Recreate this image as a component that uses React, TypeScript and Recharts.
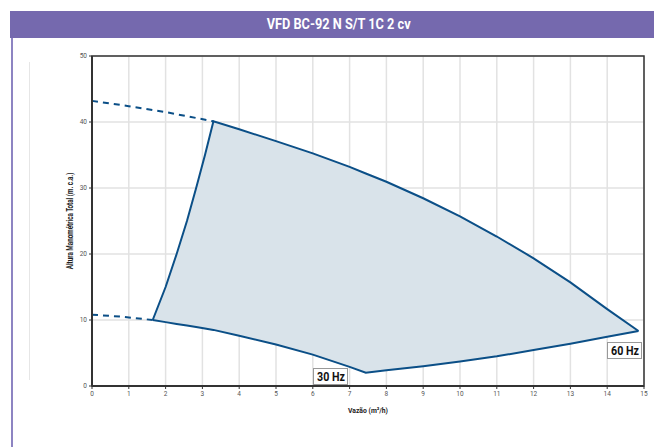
import React from "react";
import {
  ComposedChart,
  Area,
  Line,
  XAxis,
  YAxis,
  CartesianGrid,
  ReferenceArea,
} from "recharts";

// operating envelope
const flow = [1.65, 2.0, 2.3, 2.58, 2.83, 3.07, 3.3, 4, 5, 6, 7, 7.44, 8, 9, 10, 11, 12, 13, 14, 14.85];
const headMax = [10.0, 15.0, 20.0, 25.0, 30.0, 35.0, 40.1, 38.9, 37.1, 35.25, 33.2, 32.2, 30.95, 28.45, 25.7, 22.65, 19.35, 15.7, 11.65, 8.33];
const headMin = [10.0, 9.68, 9.4, 9.15, 8.93, 8.7, 8.5, 7.6, 6.3, 4.75, 2.9, 2.0, 2.38, 3.0, 3.7, 4.5, 5.45, 6.4, 7.45, 8.33];

// dashed extensions toward zero flow
const dashFlow60 = [0, 1, 2, 3.3];
const dashHead60 = [43.2, 42.4, 41.5, 40.1];
const dashFlow30 = [0, 0.8, 1.65];
const dashHead30 = [10.8, 10.5, 10.0];

const xTicks = [0, 1, 2, 3, 4, 5, 6, 7, 8, 9, 10, 11, 12, 13, 14, 15];
const yTicks = [0, 10, 20, 30, 40, 50];

const title = "VFD BC-92 N S/T 1C 2 cv";
const xLabel = "Vazão (m³/h)";
const yLabel = "Altura Manométrica Total (m. c.a.)";

const rows = flow.map((q, i) => ({
  q,
  band: [headMin[i], headMax[i]],
  hMax: headMax[i],
  hMin: headMin[i],
}));
const dash60 = dashFlow60.map((q, i) => ({ q, h: dashHead60[i] }));
const dash30 = dashFlow30.map((q, i) => ({ q, h: dashHead30[i] }));

const LINE = "#0b4f87";
const FONT = "Roboto, sans-serif";

function HzTag({ text, left, top }: { text: string; left: number; top: number }) {
  return (
    <div
      style={{
        position: "absolute",
        left,
        top,
        width: 33,
        height: 15,
        background: "#fff",
        border: "1px solid #999",
        fontFamily: FONT,
        fontWeight: 700,
        fontSize: 13,
        lineHeight: "15px",
        color: "#111",
        display: "flex",
        justifyContent: "center",
        whiteSpace: "nowrap",
      }}
    >
      <span style={{ flexShrink: 0, transform: "scaleX(0.82)" }}>{text}</span>
    </div>
  );
}

const YLabel = (props: any) => {
  const { viewBox } = props;
  const cx = viewBox.x + 8;
  const cy = viewBox.y + viewBox.height / 2;
  return (
    <text
      transform={`translate(${cx},${cy}) rotate(-90) scale(0.74,1)`}
      textAnchor="middle"
      dominantBaseline="central"
      fontSize={8.5}
      fontWeight={700}
      fill="#222"
      fontFamily={FONT}
    >
      {yLabel}
    </text>
  );
};

const XLabel = (props: any) => {
  const { viewBox } = props;
  const cx = viewBox.x + viewBox.width / 2;
  return (
    <text
      transform={`translate(${cx},${viewBox.y + 24}) scale(0.85,1)`}
      textAnchor="middle"
      dominantBaseline="central"
      fontSize={8}
      fontWeight={700}
      fill="#222"
      fontFamily={FONT}
    >
      {xLabel}
    </text>
  );
};

export default function App() {
  const tick = { fontSize: 6.5, fill: "#555", fontFamily: FONT };
  return (
    <div
      style={{
        position: "absolute",
        left: 0,
        top: 0,
        width: 654,
        height: 447,
        background: "#fff",
        overflow: "hidden",
      }}
    >
      <div
        style={{
          position: "absolute",
          left: 10,
          top: 11,
          width: 644,
          height: 27,
          background: "#7569ae",
          color: "#fff",
          fontFamily: FONT,
          fontWeight: 700,
          fontSize: 15,
          lineHeight: "27px",
          textAlign: "center",
          paddingLeft: 14,
          boxSizing: "border-box",
        }}
      >
        <span style={{ display: "inline-block", transform: "scaleX(0.85)" }}>{title}</span>
      </div>
      <div
        style={{
          position: "absolute",
          left: 11,
          top: 38,
          width: 2,
          height: 409,
          background: "#8d84c2",
        }}
      />
      <div
        style={{
          position: "absolute",
          left: 29,
          top: 62,
          width: 1,
          height: 318,
          background: "#e6e6e6",
        }}
      />
      <div style={{ position: "absolute", left: 0, top: 0 }}>
        <ComposedChart
          width={654}
          height={447}
          data={rows}
          margin={{ top: 56, right: 10, bottom: 31, left: 62 }}
        >
          <CartesianGrid stroke="#e2e2e2" strokeWidth={1.5} />
          <XAxis
            dataKey="q"
            type="number"
            domain={[0, 15]}
            ticks={xTicks}
            tick={tick}
            tickSize={3}
            tickLine={{ stroke: "#333" }}
            axisLine={{ stroke: "#333", strokeWidth: 2 }}
            height={30}
            label={<XLabel />}
          />
          <YAxis
            type="number"
            domain={[0, 50]}
            ticks={yTicks}
            tick={tick}
            tickSize={3}
            tickLine={{ stroke: "#333" }}
            axisLine={{ stroke: "#333", strokeWidth: 2 }}
            width={30}
            label={<YLabel />}
          />
          <ReferenceArea
            x1={0}
            x2={15}
            y1={0}
            y2={50}
            fill="none"
            stroke="#333"
            strokeWidth={1.5}
            ifOverflow="visible"
          />
          <Area
            dataKey="band"
            type="linear"
            fill="#d9e3ea"
            fillOpacity={1}
            stroke="none"
            isAnimationActive={false}
          />
          <Line
            dataKey="hMax"
            type="linear"
            stroke={LINE}
            strokeWidth={2}
            dot={false}
            isAnimationActive={false}
          />
          <Line
            dataKey="hMin"
            type="linear"
            stroke={LINE}
            strokeWidth={2}
            dot={false}
            isAnimationActive={false}
          />
          <Line
            data={dash60}
            dataKey="h"
            type="linear"
            stroke={LINE}
            strokeWidth={2}
            strokeDasharray="6 5"
            dot={false}
            isAnimationActive={false}
          />
          <Line
            data={dash30}
            dataKey="h"
            type="linear"
            stroke={LINE}
            strokeWidth={2}
            strokeDasharray="6 5"
            dot={false}
            isAnimationActive={false}
          />
        </ComposedChart>
      </div>
      <HzTag text="30 Hz" left={313} top={368} />
      <HzTag text="60 Hz" left={607} top={342} />
    </div>
  );
}
